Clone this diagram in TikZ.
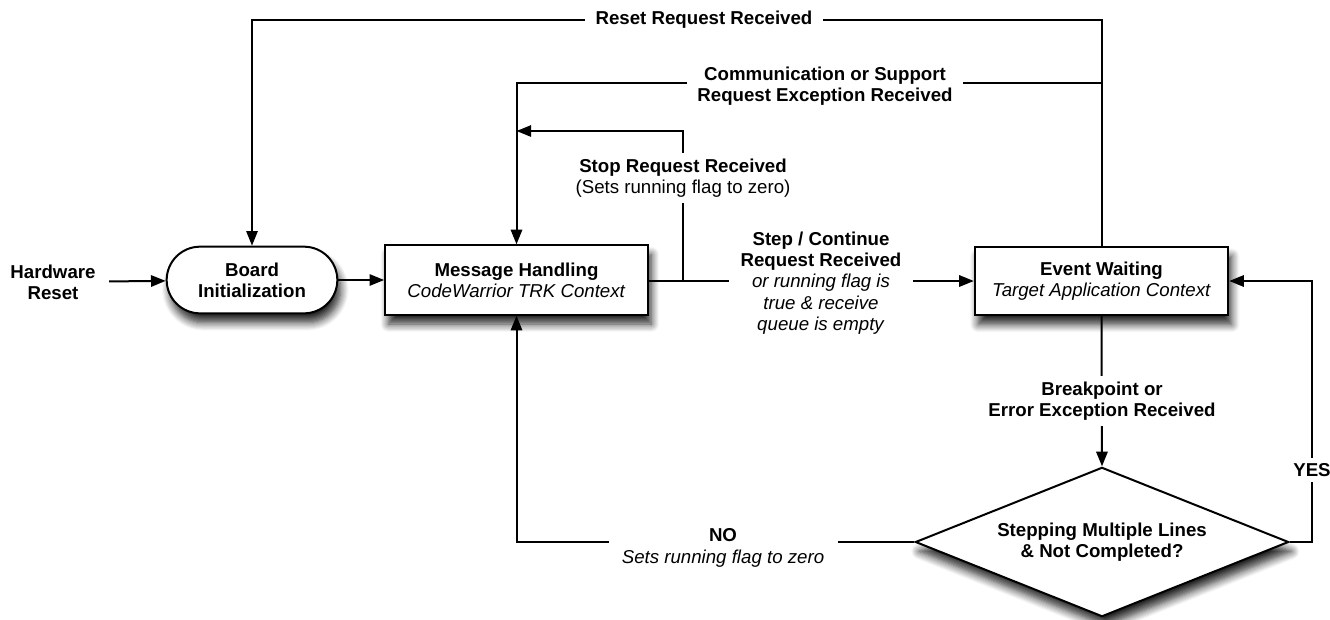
\documentclass[tikz,border=0pt]{standalone}
\usepackage{fontspec}
\setmainfont{Liberation Sans}
\usetikzlibrary{arrows.meta}
\usetikzlibrary{shapes.geometric}
\usetikzlibrary{shadows.blur}

\begin{document}
\begin{tikzpicture}[x=0.75pt,y=-0.75pt,font=\fontsize{14}{16}\selectfont]
    \tikzset{line/.style={line width=1.5pt}};
    \tikzset{flow/.style={line, -{Triangle[length=11pt,width=8.5pt]}}};
    \tikzset{box/.style={draw, line width=1.5pt, fill=white, align=center,
        blur shadow={shadow xshift=2.5pt, shadow yshift=-7pt, shadow blur radius=6pt, shadow blur steps=8, shadow opacity=85}}};
    \tikzset{lbl/.style={fill=white, align=center, inner sep=8pt}};

    \useasboundingbox (0,0) rectangle (1330,619);

    % states
    \node[align=center, inner sep=10pt] (hw) at (53,282) {\textbf{Hardware}\\\textbf{Reset}};
    \node[box, rounded corners=25pt, minimum width=128pt, minimum height=50pt] (board) at (252,280)
        {\textbf{Board}\\\textbf{Initialization}};
    \node[box, minimum width=197pt, minimum height=52pt] (MH) at (516.5,280)
        {\textbf{Message Handling}\\\textit{CodeWarrior TRK Context}};
    \node[box, minimum width=190pt, minimum height=51pt] (EW) at (1101.5,281)
        {\textbf{Event Waiting}\\\textit{Target Application Context}};
    \node[box, diamond, aspect=2.5, inner sep=0pt, minimum width=280pt, minimum height=112pt] (dec) at (1102,542)
        {\textbf{Stepping Multiple Lines}\\\textbf{\& Not Completed?}};

    \coordinate (stopturn) at (683,280);
    \coordinate (yesturn) at (1312,542);

    % connectors
    \draw[flow] (hw) -- (board);
    \draw[flow] (board) -- (MH);
    \draw[flow] (MH.east |- EW.west) -- (EW.west);
    \draw[flow] (stopturn) |- (MH.north |- 0,131);
    \draw[flow] (EW.north) -- (EW.north |- 0,20) -| (board.north);
    \draw[flow] (EW.north |- 0,83) -| (MH.north);
    \draw[flow] (EW.south) -- (dec.north);
    \draw[flow] (dec.east) -- (yesturn) |- (EW.east);
    \draw[flow] (dec.west) -| (MH.south);

    % labels on the lines
    \node[lbl] (resetlbl) at (704,20) {\textbf{Reset Request Received}};
    \node[lbl] (commlbl) at (825,86) {\textbf{Communication or Support}\\\textbf{Request Exception Received}};
    \node[lbl, inner sep=4pt] (stoplbl) at (683,178) {\textbf{Stop Request Received}\\(Sets running flag to zero)};
    \node[lbl, inner xsep=9pt, inner ysep=2pt] (steplbl) at (821,283) {\textbf{Step / Continue}\\\textbf{Request Received}\\\textit{or running flag is}\\\textit{true \& receive}\\\textit{queue is empty}};
    \node[lbl, inner ysep=4pt] (brklbl) at (1102,401) {\textbf{Breakpoint or}\\\textbf{Error Exception Received}};
    \node[lbl, inner sep=4pt] (yeslbl) at (1312,470) {\textbf{YES}};
    \node[lbl, inner ysep=2pt, inner xsep=10pt] (nolbl) at (723,548) {\textbf{NO}\\\textit{Sets running flag to zero}};
\end{tikzpicture}
\end{document}
